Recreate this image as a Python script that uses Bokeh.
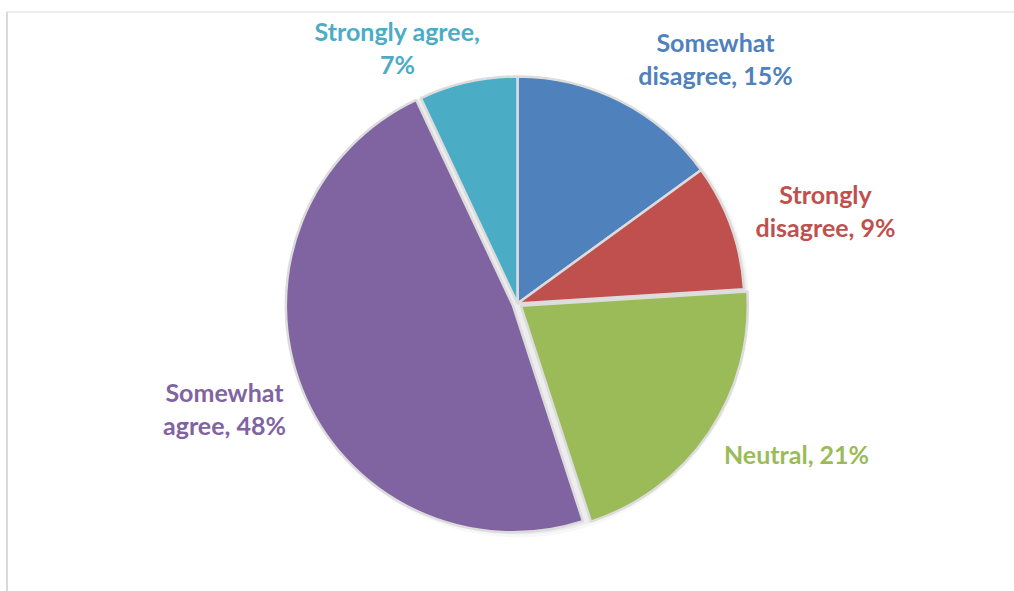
import math
from bokeh.plotting import figure
from bokeh.models import ColumnDataSource, Range1d
from bokeh.core.properties import value
from bokeh.embed import file_html
from bokeh.resources import INLINE

# ---- data ----
categories = ["Somewhat disagree", "Strongly disagree", "Neutral", "Somewhat agree", "Strongly agree"]
label_text = ["Somewhat\ndisagree, 15%", "Strongly\ndisagree, 9%", "Neutral, 21%",
              "Somewhat\nagree, 48%", "Strongly agree,\n7%"]
values = [15, 9, 21, 48, 7]
colors = ["#4F81BD", "#C0504D", "#9BBB59", "#8064A2", "#4BACC6"]

# ---- layout / style ----
W, H = 1014, 591
cx, cy, R = 517, 288, 227
explode = [0, 0, 4, 5, 0]   # px
label_pos = [(715, 533), (825, 381), (796, 138), (224, 183), (397, 544)]

total = float(sum(values))
starts, ends, xs, ys = [], [], [], []
cum = 0.0
for v, e in zip(values, explode):
    a0 = math.pi / 2 - 2 * math.pi * cum / total
    cum += v
    a1 = math.pi / 2 - 2 * math.pi * cum / total
    mid = (a0 + a1) / 2
    starts.append(a0)
    ends.append(a1)
    xs.append(cx + e * math.cos(mid))
    ys.append(cy + e * math.sin(mid))

src = ColumnDataSource(dict(x=xs, y=ys, start=starts, end=ends, color=colors, cat=categories))

p = figure(width=W, height=H, output_backend="svg", toolbar_location=None,
           x_range=Range1d(0, W), y_range=Range1d(0, H), min_border=0,
           outline_line_color=None, background_fill_color="white", border_fill_color="white")
p.axis.visible = False
p.grid.visible = False

# frame lines
p.segment(x0=[6.5], y0=[0], x1=[6.5], y1=[H - 11.5], line_color="#D9D9D9", line_width=2)
p.segment(x0=[6], y0=[H - 11.5], x1=[W], y1=[H - 11.5], line_color="#D9D9D9", line_width=1.2)

# faint shadow
p.circle(x=[cx + 1], y=[cy - 3], radius=R + 4, radius_units="screen",
         fill_color="#000000", fill_alpha=0.03, line_color=None)
p.circle(x=[cx + 1], y=[cy - 2], radius=R + 2, radius_units="screen",
         fill_color="#000000", fill_alpha=0.04, line_color=None)

p.wedge(x="x", y="y", radius=R, radius_units="screen", start_angle="start", end_angle="end",
        direction="clock", fill_color="color", line_color="#DCDCDC", line_width=2.5, source=src)

lsrc = ColumnDataSource(dict(x=[lp[0] for lp in label_pos], y=[lp[1] for lp in label_pos],
                             text=label_text, color=colors))
p.text(x="x", y="y", text="text", text_color="color", text_font=value("Lato"),
       text_font_style="bold", text_font_size="25px", text_align="center",
       text_baseline="middle", text_line_height=1.12, source=lsrc)

open("out.html", "w").write(file_html(p, INLINE))
